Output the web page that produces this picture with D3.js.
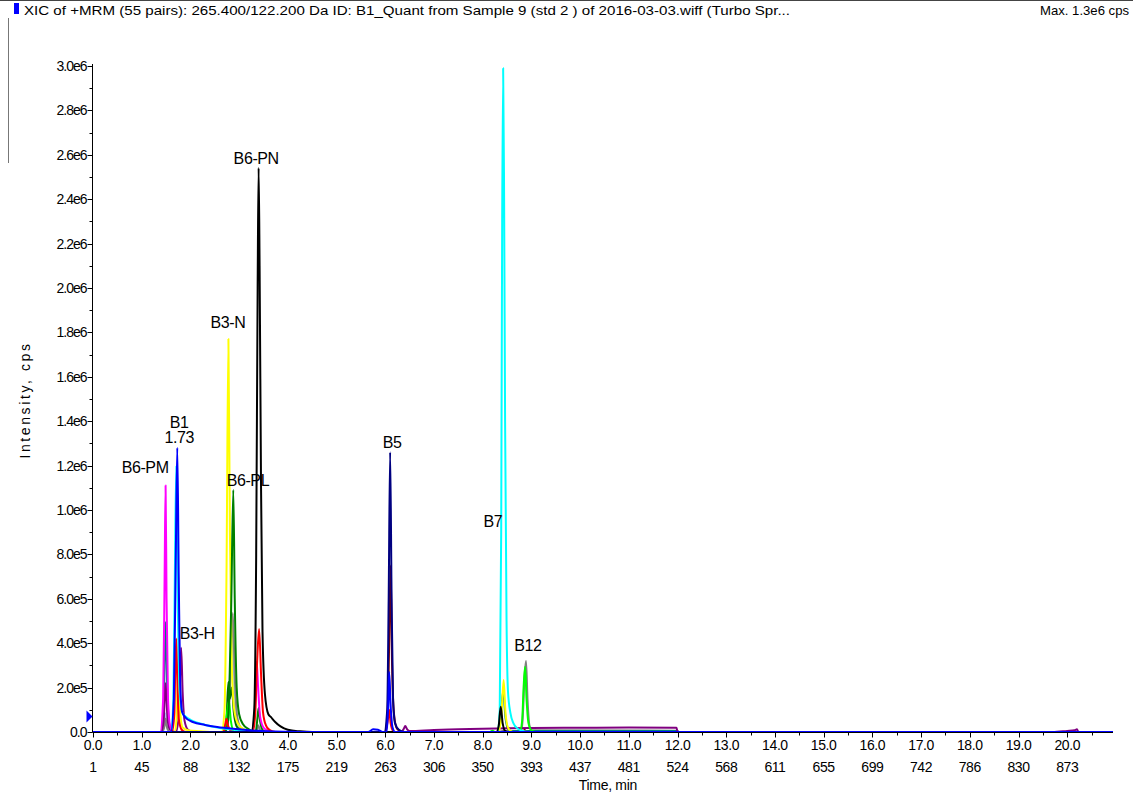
<!DOCTYPE html>
<html>
<head>
<meta charset="utf-8">
<script src="https://cdn.jsdelivr.net/npm/d3@7"></script>
<style>
  html, body { margin: 0; padding: 0; background: #fff; }
  svg { display: block; }
  text { font-family: "Liberation Sans", Arial, sans-serif; fill: #000; }
</style>
</head>
<body>
<svg id="chart" width="1133" height="796"></svg>
<script>
// ---- XIC traces: [time (min), intensity (cps)] ----
const lightBlueTrace = [[0,0],[1.42,0],[1.46,4e4],[1.48,8.5e4],[1.51,3e4],[1.56,0],[2.72,0],[2.78,1e5],[2.82,3e5],[2.85,4.3e5],[2.89,2e5],[2.94,6e4],[3.02,1.5e4],[3.12,0],[3.36,0],[3.40,2e4],[3.45,0],[20.94,0]];
const greyTrace = [[0,0],[1.42,0],[1.47,3e4],[1.49,6e4],[1.52,2e4],[1.58,0],[2.72,0],[2.78,6e4],[2.83,3e5],[2.87,5.36e5],[2.91,2.5e5],[2.96,7e4],[3.03,2e4],[3.15,5e3],[3.25,0],[3.35,0],[3.39,3e4],[3.43,1e4],[3.5,0],[8.35,0],[8.4,5e3],[8.8,5e3],[8.83,1e5],[8.86,2.5e5],[8.89,3.2e5],[8.92,1.5e5],[8.96,3e4],[9.0,8e3],[12.0,6e3],[12.01,0],[20.94,0]];
const darkGreenTrace = [[0,0],[2.68,0],[2.74,6e4],[2.78,2.25e5],[2.81,1.5e5],[2.85,2.0e5],[2.89,9e4],[2.95,2.5e4],[3.05,5e3],[3.15,0],[20.94,0]];
const tealTrace = [[0,0],[1.40,0],[1.45,1e5],[1.49,4.96e5],[1.53,1.5e5],[1.58,2e4],[1.65,0],[8.30,0],[8.36,4e4],[8.42,1.85e5],[8.47,6e4],[8.53,1e4],[8.6,5e3],[12.0,5e3],[12.01,0],[20.94,0]];
const purpleTrace = [[0,0],[1.40,0],[1.45,5e4],[1.49,2.2e5],[1.53,6e4],[1.58,1e4],[1.70,0],[1.75,5e4],[1.78,2e5],[1.81,3.8e5],[1.84,1.8e5],[1.88,5e4],[1.95,1e4],[2.05,0],[6.33,0],[6.38,1.5e4],[6.41,2.7e4],[6.45,1.2e4],[6.5,4e3],[7.0,9e3],[7.5,1.2e4],[8.0,1.5e4],[9.0,1.8e4],[10.0,1.9e4],[11.0,2e4],[11.98,1.9e4],[12.0,0],[19.7,0],[20.0,5e3],[20.15,8e3],[20.2,1.2e4],[20.23,0],[20.94,0]];
const limeTrace = [[0,0],[2.70,0],[2.76,1e5],[2.79,1.4e5],[2.83,5e4],[2.9,0],[8.15,0],[8.2,6e3],[8.25,0],[8.76,0],[8.81,5e4],[8.84,2e5],[8.87,2.94e5],[8.90,1.5e5],[8.94,4e4],[9.0,8e3],[9.1,0],[20.94,0]];
const yellowTrace = [[0,0],[1.68,0],[1.72,8e4],[1.75,3.0e5],[1.78,1.2e5],[1.84,2e4],[1.95,8e3],[2.2,3e3],[2.4,0],[2.64,0],[2.70,1e5],[2.74,7e5],[2.78,1.77e6],[2.81,9e5],[2.85,3e5],[2.90,1e5],[2.97,4e4],[3.1,1.2e4],[3.3,0],[8.32,0],[8.38,6e4],[8.43,2.34e5],[8.47,8e4],[8.53,1.5e4],[8.62,0],[20.94,0]];
const greenTrace = [[0,0],[2.70,0],[2.76,3e4],[2.80,2e5],[2.84,6e5],[2.88,1.09e6],[2.91,6e5],[2.95,2e5],[3.00,8e4],[3.08,3.5e4],[3.2,1.2e4],[3.3,0],[3.34,0],[3.37,5e4],[3.40,1.08e5],[3.43,5e4],[3.48,1e4],[3.55,0],[20.94,0]];
const magentaTrace = [[0,0],[1.38,0],[1.44,1.5e5],[1.47,7e5],[1.49,1.11e6],[1.51,6e5],[1.54,1.5e5],[1.58,3e4],[1.65,0],[3.25,0],[3.31,6e4],[3.34,2e5],[3.36,3.17e5],[3.39,2e5],[3.43,7e4],[3.5,2e4],[3.6,5e3],[3.7,0],[20.94,0]];
const redTrace = [[0,0],[1.62,0],[1.67,8e4],[1.69,3e5],[1.71,4.2e5],[1.73,2.5e5],[1.76,6e4],[1.82,1e4],[1.9,0],[2.68,0],[2.72,4e4],[2.74,6e4],[2.77,3e4],[2.83,5e3],[2.9,0],[3.28,0],[3.33,8e4],[3.37,3.2e5],[3.41,4.64e5],[3.45,2.6e5],[3.49,9e4],[3.55,3e4],[3.62,1e4],[3.75,0],[6.0,0],[6.05,5e4],[6.08,1e5],[6.11,4e4],[6.16,5e3],[6.2,0],[20.94,0]];
const maroonTrace = [[0,0],[6.0,0],[6.05,1e5],[6.08,4e5],[6.11,7.5e5],[6.14,3e5],[6.18,8e4],[6.24,1.5e4],[6.35,0],[8.82,0],[8.86,1e4],[8.9,0],[20.94,0]];
const cyanTrace = [[0,0],[1.60,0],[1.65,1.5e5],[1.68,7e5],[1.71,1.2e6],[1.74,6e5],[1.78,1.8e5],[1.83,9e4],[1.9,7e4],[2.0,5.5e4],[2.2,3.8e4],[2.5,2.2e4],[2.8,1.2e4],[3.2,5e3],[3.6,0],[8.30,0],[8.35,1e5],[8.38,9e5],[8.40,2.3e6],[8.42,2.99e6],[8.44,2.4e6],[8.46,1.4e6],[8.49,5e5],[8.52,1.8e5],[8.57,8.5e4],[8.63,4e4],[8.72,1.5e4],[8.85,4e3],[9.0,0],[20.94,0]];
const blackTrace = [[0,0],[3.25,0],[3.31,1e5],[3.35,8e5],[3.38,2.0e6],[3.40,2.54e6],[3.42,2.1e6],[3.45,1.1e6],[3.48,4.5e5],[3.53,1.7e5],[3.60,8e4],[3.65,6.8e4],[3.74,4.5e4],[3.85,2.5e4],[4.0,1e4],[4.25,3e3],[4.5,0],[8.28,0],[8.33,3e4],[8.37,1.14e5],[8.41,4e4],[8.46,5e3],[8.52,0],[20.94,0]];
const navyTrace = [[0,0],[5.98,0],[6.04,1e5],[6.07,6e5],[6.10,1.26e6],[6.13,6e5],[6.16,1.5e5],[6.20,4e4],[6.28,1e4],[6.4,0],[20.94,0]];
const blueTrace = [[0,0],[1.60,0],[1.66,1.5e5],[1.70,8e5],[1.73,1.28e6],[1.76,7e5],[1.79,2.2e5],[1.83,9e4],[1.9,6.5e4],[2.05,4.5e4],[2.3,3.2e4],[2.55,2.3e4],[2.96,1.3e4],[3.2,8e3],[3.6,3e3],[4.0,1e3],[4.3,0],[5.65,0],[5.75,1.2e4],[5.85,1e4],[5.95,0],[6.03,0],[6.06,1.2e5],[6.08,2.7e5],[6.11,1.2e5],[6.15,2e4],[6.2,0],[20.94,0]];

// drawing order (first = bottom) and trace colours
const traceNames  = ["lightBlue","grey","darkGreen","teal","purple","lime","yellow","green","magenta","red","maroon","cyan","black","navy","blue"];
const traceValues = [lightBlueTrace, greyTrace, darkGreenTrace, tealTrace, purpleTrace, limeTrace, yellowTrace, greenTrace, magentaTrace, redTrace, maroonTrace, cyanTrace, blackTrace, navyTrace, blueTrace];
const traceColors = ["#a6caf0","#808080","#007000","#008080","#800080","#00ff00","#ffff00","#008000","#ff00ff","#ff0000","#800000","#00ffff","#000000","#000080","#0000ff"];

// peak annotations: text placed at (time, intensity)
const peakLabels = [
  {text: "B6-PN", t: 3.35, v: 2.56e6},
  {text: "B3-N",  t: 2.77, v: 1.82e6},
  {text: "B1",    t: 1.77, v: 1.37e6},
  {text: "1.73",  t: 1.77, v: 1.30e6},
  {text: "B6-PM", t: 1.07, v: 1.167e6},
  {text: "B6-PL", t: 3.18, v: 1.108e6},
  {text: "B3-H",  t: 2.14, v: 4.19e5},
  {text: "B5",    t: 6.14, v: 1.28e6},
  {text: "B7",    t: 8.21, v: 9.24e5},
  {text: "B12",   t: 8.93, v: 3.65e5}
];

// axis ticks
const xTickTimes  = [0,1,2,3,4,5,6,7,8,9,10,11,12,13,14,15,16,17,18,19,20];
const xTickLabels = ["0.0","1.0","2.0","3.0","4.0","5.0","6.0","7.0","8.0","9.0","10.0","11.0","12.0","13.0","14.0","15.0","16.0","17.0","18.0","19.0","20.0"];
const xCycleLabels = ["1","45","88","132","175","219","263","306","350","393","437","481","524","568","611","655","699","742","786","830","873"];
const yTickValues = [0,2e5,4e5,6e5,8e5,1e6,1.2e6,1.4e6,1.6e6,1.8e6,2e6,2.2e6,2.4e6,2.6e6,2.8e6,3e6];
const yTickLabels = ["0.0","2.0e5","4.0e5","6.0e5","8.0e5","1.0e6","1.2e6","1.4e6","1.6e6","1.8e6","2.0e6","2.2e6","2.4e6","2.6e6","2.8e6","3.0e6"];

const titleText = "XIC of +MRM (55 pairs): 265.400/122.200 Da ID: B1_Quant from Sample 9 (std 2 ) of 2016-03-03.wiff (Turbo Spr...";
const maxText = "Max. 1.3e6 cps";

// ---- layout ----
const svg = d3.select("#chart");
const plotLeft = 92.5, plotRight = 1113, plotTop = 66, plotBottom = 732;

const x = d3.scaleLinear().domain([0, 20.94]).range([plotLeft + 0.5, plotRight]);
const y = d3.scaleLinear().domain([0, 3e6]).range([plotBottom, plotTop]);

// header
svg.append("line").attr("x1", 0).attr("x2", 1133).attr("y1", 0.5).attr("y2", 0.5)
  .attr("stroke", "#444").attr("stroke-width", 1);
svg.append("line").attr("x1", 8.5).attr("x2", 8.5).attr("y1", 18).attr("y2", 163)
  .attr("stroke", "#777").attr("stroke-width", 1);
svg.append("rect").attr("x", 14).attr("y", 3).attr("width", 5).attr("height", 11).attr("fill", "#0000ff");
svg.append("text").attr("x", 24).attr("y", 15).attr("font-size", 13.5)
  .attr("textLength", 766).attr("lengthAdjust", "spacingAndGlyphs").text(titleText);
svg.append("text").attr("x", 1040).attr("y", 15).attr("font-size", 13.5)
  .attr("textLength", 89).attr("lengthAdjust", "spacingAndGlyphs").text(maxText);

// traces
const line = d3.line()
  .x(d => x(d[0]))
  .y(d => y(d[1]))
  .curve(d3.curveMonotoneX);

const traceG = svg.append("g");
traceValues.forEach((vals, i) => {
  traceG.append("path")
    .datum(vals)
    .attr("class", "trace " + traceNames[i])
    .attr("fill", "none")
    .attr("stroke", traceColors[i])
    .attr("stroke-width", 2)
    .attr("stroke-linejoin", "round")
    .attr("d", line);
});

// x axis
const xAxis = svg.append("g").attr("transform", `translate(0,${plotBottom + 0.5})`);
xAxis.append("line").attr("x1", plotLeft).attr("x2", plotRight).attr("stroke", "#000");
const xMinor = d3.range(0, 42).map(k => k * 0.5).filter(t => t <= 20.94);
xAxis.selectAll("line.minor").data(xMinor).join("line").attr("class", "minor")
  .attr("x1", d => Math.round(x(d)) + 0.5).attr("x2", d => Math.round(x(d)) + 0.5)
  .attr("y1", 0).attr("y2", d => (d % 1 === 0 ? 5 : 3)).attr("stroke", "#000");
xAxis.selectAll("text.t").data(xTickTimes).join("text").attr("class", "t")
  .attr("x", d => x(d)).attr("y", 17.5).attr("text-anchor", "middle")
  .attr("font-size", 14).attr("letter-spacing", -0.4)
  .text((d, i) => xTickLabels[i]);
xAxis.selectAll("text.c").data(xTickTimes).join("text").attr("class", "c")
  .attr("x", d => x(d)).attr("y", 39.5).attr("text-anchor", "middle")
  .attr("font-size", 14).attr("letter-spacing", -0.4)
  .text((d, i) => xCycleLabels[i]);
svg.append("text").attr("x", 637).attr("y", 790).attr("text-anchor", "end")
  .attr("font-size", 14).attr("letter-spacing", -0.3).text("Time, min");

// y axis
const yAxis = svg.append("g").attr("transform", `translate(${plotLeft},0)`);
yAxis.append("line").attr("y1", plotTop - 2).attr("y2", plotBottom + 0.5).attr("stroke", "#000");
const yMinor = d3.range(0, 31).map(k => k * 1e5);
yAxis.selectAll("line.minor").data(yMinor).join("line").attr("class", "minor")
  .attr("y1", d => Math.round(y(d)) + 0.5).attr("y2", d => Math.round(y(d)) + 0.5)
  .attr("x1", 0).attr("x2", (d, i) => (i % 2 === 0 ? -5 : -3)).attr("stroke", "#000");
yAxis.selectAll("text").data(yTickValues).join("text")
  .attr("x", -6).attr("y", d => y(d) + 5).attr("text-anchor", "end")
  .attr("font-size", 14).attr("letter-spacing", -1)
  .text((d, i) => yTickLabels[i]);
svg.append("text")
  .attr("transform", `translate(30,${400}) rotate(-90)`)
  .attr("text-anchor", "middle").attr("font-size", 14).attr("letter-spacing", 2.6)
  .text("Intensity, cps");

// trace marker on the y axis
svg.append("path")
  .attr("d", `M${plotLeft - 6},${y(7e4) - 6} L${plotLeft},${y(7e4)} L${plotLeft - 6},${y(7e4) + 6} Z`)
  .attr("fill", "#0000ff");

// peak labels
svg.append("g").selectAll("text").data(peakLabels).join("text")
  .attr("x", d => x(d.t)).attr("y", d => y(d.v))
  .attr("text-anchor", "middle").attr("font-size", 16).attr("letter-spacing", -0.4)
  .text(d => d.text);
</script>
</body>
</html>
